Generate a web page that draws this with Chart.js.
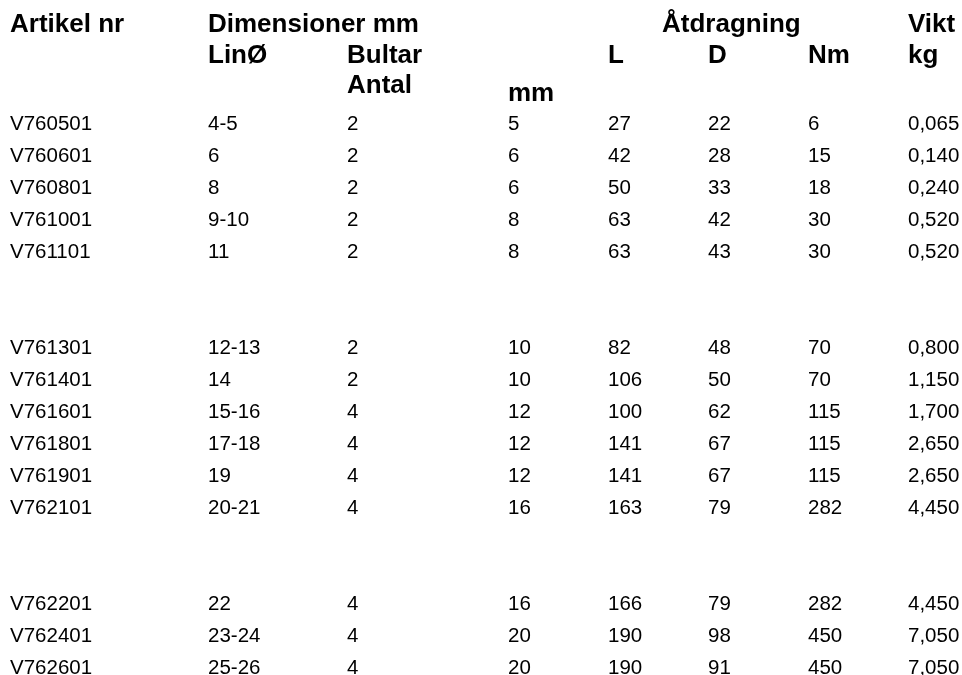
<!DOCTYPE html>
<html>
<head>
<meta charset="utf-8">
<script src="https://cdn.jsdelivr.net/npm/chart.js@4/dist/chart.umd.min.js"></script>
<style>
  html, body { margin: 0; padding: 0; background: #fff; }
  canvas { display: block; }
</style>
</head>
<body>
<canvas id="table" width="962" height="675"></canvas>
<script>
// table values
const articles = ["V760501", "V760601", "V760801", "V761001", "V761101",
  "V761301", "V761401", "V761601", "V761801", "V761901", "V762101",
  "V762201", "V762401", "V762601"];
const linDia = ["4-5", "6", "8", "9-10", "11", "12-13", "14", "15-16", "17-18", "19", "20-21", "22", "23-24", "25-26"];
const boltCount = [2, 2, 2, 2, 2, 2, 2, 4, 4, 4, 4, 4, 4, 4];
const boltMm = [5, 6, 6, 8, 8, 10, 10, 12, 12, 12, 16, 16, 20, 20];
const torqueL = [27, 42, 50, 63, 63, 82, 106, 100, 141, 141, 163, 166, 190, 190];
const torqueD = [22, 28, 33, 42, 43, 48, 50, 62, 67, 67, 79, 79, 98, 91];
const torqueNm = [6, 15, 18, 30, 30, 70, 70, 115, 115, 115, 282, 282, 450, 450];
const weightKg = ["0,065", "0,140", "0,240", "0,520", "0,520", "0,800", "1,150", "1,700", "2,650", "2,650", "4,450", "4,450", "7,050", "7,050"];

// header texts: [text, column, row]
const headers = [
  ["Artikel nr", 0, -3.05], ["Dimensioner mm", 1, -3.05], ["Åtdragning", 8, -3.05], ["Vikt", 7, -3.05],
  ["LinØ", 1, -2.1], ["Bultar", 2, -2.1], ["L", 4, -2.1], ["D", 5, -2.1], ["Nm", 6, -2.1], ["kg", 7, -2.1],
  ["Antal", 2, -1.15], ["mm", 3, -0.9]
];

// layout: column offsets on the x scale, group sizes with blank rows between
const colPos = [0.1, 2.08, 3.47, 5.08, 6.08, 7.08, 8.08, 9.08, 6.62];
const groupSizes = [5, 6, 3];
const groupGap = 2;

const rowSlot = [];
let slot = 0;
groupSizes.forEach(n => {
  for (let k = 0; k < n; k++) rowSlot.push(slot++);
  slot += groupGap;
});

const columns = [articles, linDia, boltCount, boltMm, torqueL, torqueD, torqueNm, weightKg];
const FAMILY = '"Liberation Sans", Arial, sans-serif';

const datasets = columns.map((vals, c) => ({
  data: vals.map((v, i) => ({ x: colPos[c], y: rowSlot[i], label: String(v) })),
  font: "20.5px " + FAMILY,
  pointRadius: 0
}));
datasets.push({
  data: headers.map(h => ({ x: colPos[h[1]], y: h[2], label: h[0] })),
  font: "bold 26px " + FAMILY,
  pointRadius: 0
});

// draws each cell's text at its point, placed by the x/y scales
const cellText = {
  id: "cellText",
  beforeDraw(chart) {
    const ctx = chart.ctx;
    ctx.save();
    ctx.fillStyle = "#fff";
    ctx.fillRect(0, 0, chart.width, chart.height);
    ctx.restore();
  },
  afterDatasetsDraw(chart) {
    const ctx = chart.ctx;
    ctx.save();
    ctx.fillStyle = "#000";
    ctx.textAlign = "left";
    ctx.textBaseline = "alphabetic";
    chart.data.datasets.forEach((ds, i) => {
      ctx.font = ds.font;
      chart.getDatasetMeta(i).data.forEach((pt, j) => {
        ctx.fillText(ds.data[j].label, pt.x, pt.y);
      });
    });
    ctx.restore();
  }
};

new Chart(document.getElementById("table"), {
  type: "scatter",
  data: { datasets: datasets },
  options: {
    responsive: false,
    animation: false,
    layout: { padding: 0 },
    plugins: { legend: { display: false }, tooltip: { enabled: false } },
    scales: {
      x: { type: "linear", display: false, min: 0, max: 9.62 },
      y: { type: "linear", display: false, reverse: true, min: -4.0625, max: 17.03125 }
    }
  },
  plugins: [cellText]
});
</script>
</body>
</html>
